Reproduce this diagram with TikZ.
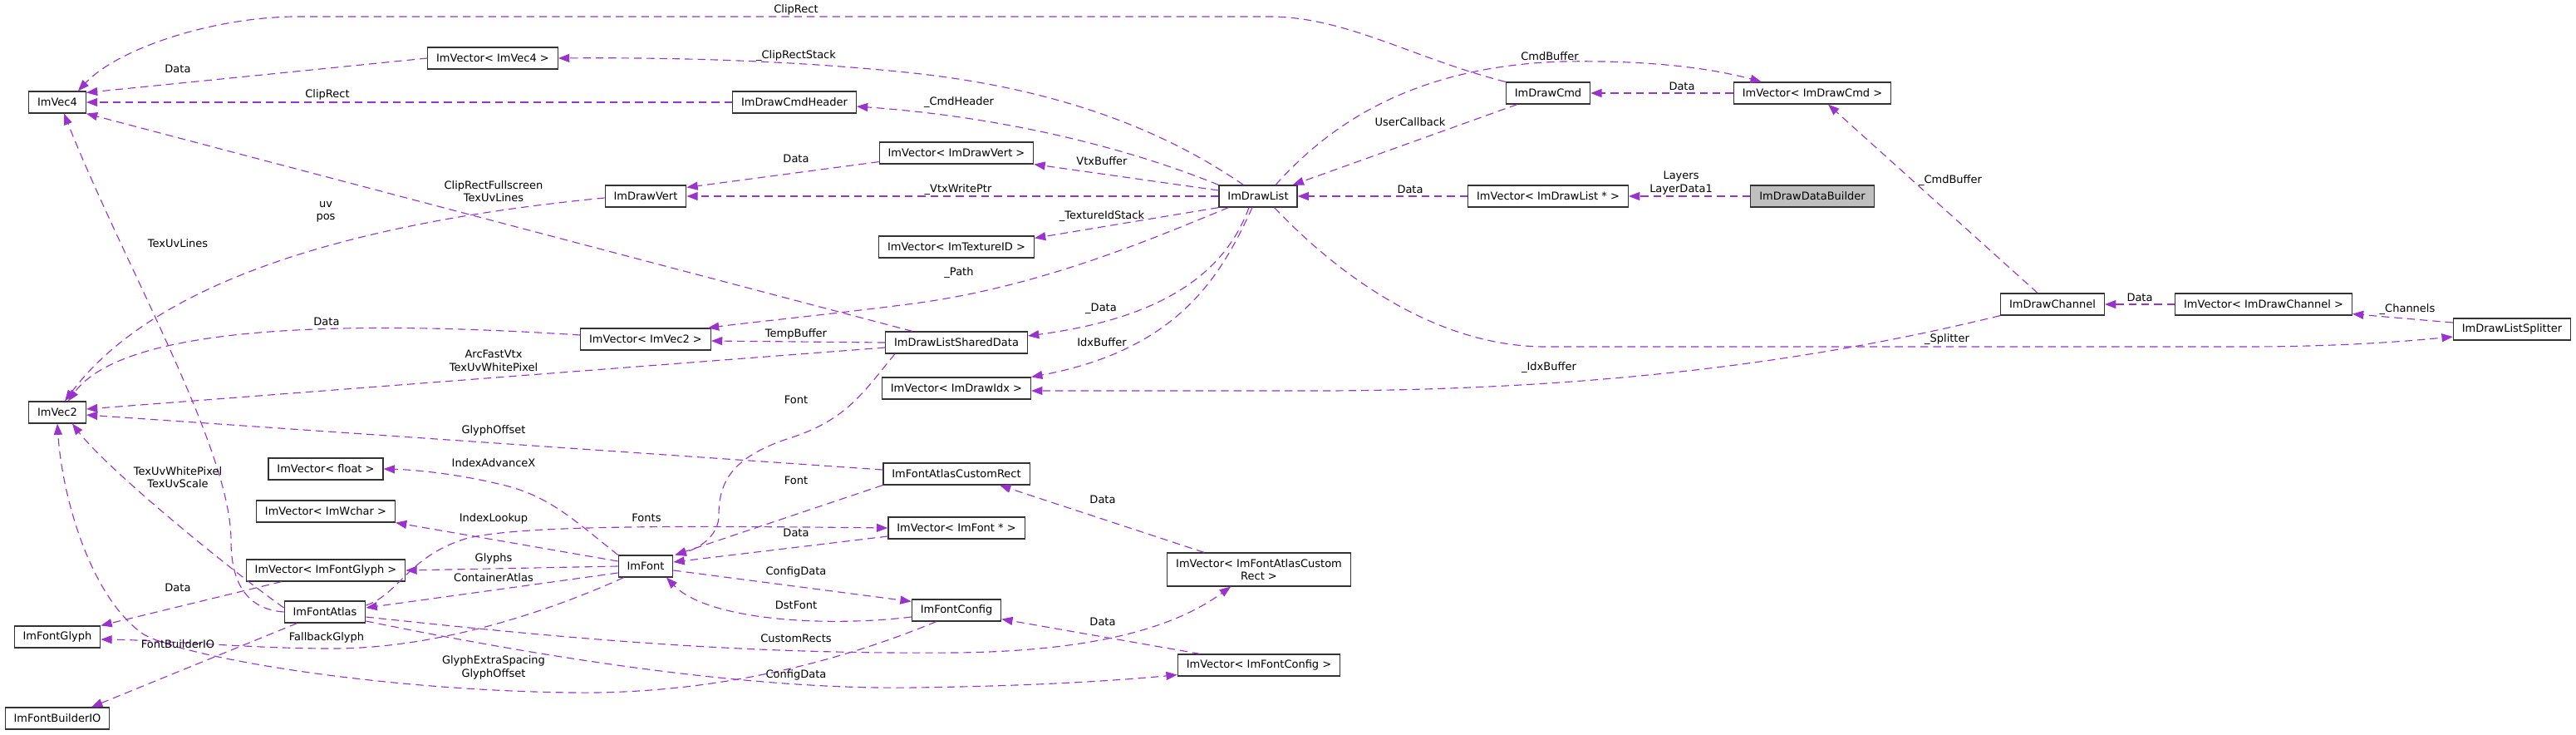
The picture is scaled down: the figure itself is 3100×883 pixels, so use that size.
\documentclass[tikz,border=0pt]{standalone}
\usepackage{fontspec}
\setmainfont{DejaVu Sans}
\usepackage{tikz}
\usetikzlibrary{calc,arrows.meta}
\definecolor{edgepurple}{RGB}{154,50,205}
\definecolor{rootgrey}{RGB}{191,191,191}
\tikzset{
    class box/.style={
        draw=black!80,line width=0.9pt,
        fill=white,
        minimum height=19.5pt,inner xsep=7.8pt,inner ysep=2pt,
        font=\fontsize{9.75pt}{11.5pt}\selectfont
    },
    root box/.style={class box,fill=rootgrey},
    member edge/.style={
        draw=edgepurple,line width=0.85pt,
        dash pattern=on 7pt off 4.5pt,->
    },
    edge label/.style={
        inner sep=0pt,align=center,
        font=\fontsize{9.75pt}{11.5pt}\selectfont
    },
    >={Triangle[length=10pt,width=7.5pt]}
}
\begin{document}
\begin{tikzpicture}[x=0.75pt,y=-0.75pt]
\useasboundingbox (0,0) rectangle (3100,883);
% classes
\node[class box] (vec4) at (69,123) {ImVec4};
\node[class box] (vec2) at (69,496) {ImVec2};
\node[class box] (glyph) at (69,766) {ImFontGlyph};
\node[class box] (builderio) at (69,864) {ImFontBuilderIO};
\node[class box] (vfloat) at (392,564) {ImVector< float >};
\node[class box] (vwchar) at (392,615) {ImVector< ImWchar >};
\node[class box] (vglyph) at (392,686) {ImVector< ImFontGlyph >};
\node[class box] (atlas) at (391,736) {ImFontAtlas};
\node[class box] (vvec4) at (593,70) {ImVector< ImVec4 >};
\node[class box] (drawvert) at (777,236) {ImDrawVert};
\node[class box] (vvec2) at (777,408) {ImVector< ImVec2 >};
\node[class box] (font) at (777,681) {ImFont};
\node[class box] (cmdheader) at (956,123) {ImDrawCmdHeader};
\node[class box] (vvert) at (1151,184) {ImVector< ImDrawVert >};
\node[class box] (vtexid) at (1151,297) {ImVector< ImTextureID >};
\node[class box] (shared) at (1151,412) {ImDrawListSharedData};
\node[class box] (vidx) at (1151,467) {ImVector< ImDrawIdx >};
\node[class box] (customrect) at (1151,570) {ImFontAtlasCustomRect};
\node[class box] (vfont) at (1151,635) {ImVector< ImFont * >};
\node[class box] (config) at (1151,734) {ImFontConfig};
\node[class box] (drawlist) at (1514,236) {ImDrawList};
\node[class box,align=center,minimum height=30pt] (vrect) at (1515,685) {ImVector< ImFontAtlasCustom\\Rect >};
\node[class box] (vconfig) at (1515,800) {ImVector< ImFontConfig >};
\node[class box] (drawcmd) at (1863,112) {ImDrawCmd};
\node[class box] (vlist) at (1863,236) {ImVector< ImDrawList * >};
\node[class box] (vcmd) at (2181,112) {ImVector< ImDrawCmd >};
\node[root box] (builder) at (2181,236) {ImDrawDataBuilder};
\node[class box] (channel) at (2470,366) {ImDrawChannel};
\node[class box] (vchannel) at (2724,366) {ImVector< ImDrawChannel >};
\node[class box] (splitter) at (3023,396) {ImDrawListSplitter};

% members pointing at ImVec4 / ImVec2
\draw[member edge] (drawcmd.north west) .. controls (1700,70) and (1620,20) .. (1527,20) -- (352,20) .. controls (250,22) and (140,60) .. ($(vec4.north)+(25,0)$);
\draw[member edge] (vvec4.west) -- ($(vec4.north east)+(0,2)$);
\draw[member edge] (cmdheader.west) -- (vec4.east);
\draw[member edge] ($(shared.north west)+(33,0)$) -- (vec4.south east);
\draw[member edge] (atlas.west) .. controls (300,733) and (278,705) .. (278,650) .. controls (278,540) and (150,320) .. ($(vec4.south)+(8,0)$);
\draw[member edge] ($(vvec2.west)+(0,-5)$) .. controls (420,385) and (150,390) .. ($(vec2.north)+(13,0)$);
\draw[member edge] ($(drawvert.west)+(0,2)$) .. controls (480,262) and (200,320) .. ($(vec2.north)+(9,0)$);
\draw[member edge] ($(shared.west)+(0,6)$) -- ($(vec2.east)+(0,-4)$);
\draw[member edge] ($(customrect.west)+(0,-5)$) -- ($(vec2.east)+(0,3)$);
\draw[member edge] ($(atlas.west)+(0,-5)$) .. controls (270,680) and (130,565) .. ($(vec2.south)+(18,0)$);
\draw[member edge] ($(config.south west)+(30,0)$) .. controls (1000,800) and (850,835) .. (689,833) .. controls (450,830) and (220,790) .. (173,763) .. controls (110,720) and (75,600) .. (vec2.south);

% font side
\draw[member edge] ($(vglyph.south west)+(43,0)$) -- (glyph.north east);
\draw[member edge] ($(font.south west)+(7,0)$) .. controls (650,740) and (520,780) .. (400,780) .. controls (300,780) and (200,770) .. ($(glyph.east)+(0,3)$);
\draw[member edge] ($(atlas.south west)+(16,0)$) -- ($(builderio.north)+(41,0)$);
\draw[member edge] (font.north west) .. controls (690,625) and (660,595) .. (600,582) .. controls (550,570) and (500,565) .. (vfloat.east);
\draw[member edge] ($(font.west)+(0,-6)$) -- (vwchar.south east);
\draw[member edge] (font.west) -- (vglyph.east);
\draw[member edge] ($(font.west)+(0,8)$) -- ($(atlas.east)+(0,-5)$);
\draw[member edge] ($(atlas.east)+(0,-8)$) .. controls (480,715) and (490,670) .. (560,648) .. controls (620,632) and (800,632) .. (vfont.west);
\draw[member edge] ($(vfont.west)+(0,10)$) -- ($(font.east)+(0,-5)$);
\draw[member edge] (customrect.south west) -- ($(font.north east)+(2,0)$);
\draw[member edge] ($(shared.south west)+(12,0)$) .. controls (1040,470) and (1020,505) .. (950,527) .. controls (880,550) and (865,580) .. (865,620) .. controls (865,645) and (840,660) .. ($(font.north east)+(2,0)$);
\draw[member edge] ($(font.east)+(0,5)$) -- ($(config.north west)+(0,3)$);
\draw[member edge] ($(config.west)+(0,8)$) .. controls (990,755) and (850,745) .. ($(font.south)+(25,0)$);
\draw[member edge] ($(atlas.east)+(0,6)$) .. controls (700,770) and (900,787) .. (1150,785) .. controls (1330,783) and (1420,750) .. ($(vrect.south)+(-34,0)$);
\draw[member edge] ($(atlas.east)+(0,11)$) .. controls (650,790) and (900,830) .. (1100,827) .. controls (1250,825) and (1350,818) .. ($(vconfig.south west)+(0,-2)$);
\draw[member edge] ($(vrect.north)+(-66,0)$) -- ($(customrect.south)+(52,0)$);
\draw[member edge] ($(vconfig.north)+(-71,0)$) -- ($(config.south east)+(0,-3)$);

% draw list side
\draw[member edge] ($(drawlist.north west)+(30,0)$) .. controls (1420,170) and (1300,110) .. (1100,88) .. controls (950,72) and (800,69) .. (vvec4.east);
\draw[member edge] (drawlist.north west) .. controls (1350,175) and (1200,140) .. ($(cmdheader.east)+(0,5)$);
\draw[member edge] ($(drawlist.west)+(0,-7)$) -- (vvert.south east);
\draw[member edge] (drawlist.west) -- (drawvert.east);
\draw[member edge] ($(vvert.south west)+(0,-3)$) -- ($(drawvert.north east)+(0,3)$);
\draw[member edge] (drawlist.south west) -- ($(vtexid.north east)+(0,3)$);
\draw[member edge] ($(drawlist.south west)+(12,0)$) .. controls (1380,290) and (1250,345) .. (1100,365) .. controls (1000,378) and (900,388) .. ($(vvec2.north east)+(-4,0)$);
\draw[member edge] (shared.west) -- ($(vvec2.east)+(0,2)$);
\draw[member edge] ($(drawlist.south)+(-11,0)$) .. controls (1470,340) and (1380,385) .. ($(shared.east)+(0,-8)$);
\draw[member edge] ($(drawlist.south)+(-7,0)$) .. controls (1470,330) and (1420,420) .. (vidx.north east);
\draw[member edge] (channel.south west) .. controls (2200,430) and (1950,468) .. (1600,470) -- ($(vidx.east)+(0,3)$);
\draw[member edge] ($(drawlist.south east)+(-28,0)$) .. controls (1600,320) and (1720,417) .. (1860,417) -- (2700,417) .. controls (2820,417) and (2900,410) .. ($(splitter.west)+(0,9)$);
\draw[member edge] ($(channel.north)+(-18,0)$) -- ($(vcmd.south)+(19,0)$);
\draw[member edge] (vchannel.west) -- (channel.east);
\draw[member edge] ($(splitter.west)+(0,-8)$) -- ($(vchannel.south east)+(0,-2)$);
\draw[member edge] ($(drawlist.north)+(21,0)$) .. controls (1600,150) and (1700,80) .. (1880,74) .. controls (2000,72) and (2070,85) .. ($(vcmd.north west)+(34,0)$);
\draw[member edge] ($(drawcmd.south west)+(14,0)$) -- ($(drawlist.north east)+(-6,0)$);
\draw[member edge] (vcmd.west) -- (drawcmd.east);
\draw[member edge] (vlist.west) -- (drawlist.east);
\draw[member edge] (builder.west) -- (vlist.east);

% labels
\node[edge label] (lClipRectCmd) at (958,12) {ClipRect};
\node[edge label] (lDataVec4) at (214,83) {Data};
\node[edge label] (lClipRectHdr) at (394,114) {ClipRect};
\node[edge label] (lShared4) at (594,230) {ClipRectFullscreen\\TexUvLines};
\node[edge label] (lUvPos) at (392,255) {uv\\pos};
\node[edge label] (lTexUvLines) at (214,293) {TexUvLines};
\node[edge label] (lDataVec2) at (393,387) {Data};
\node[edge label] (lArcFast) at (594,434) {ArcFastVtx\\TexUvWhitePixel};
\node[edge label] (lGlyphOffset) at (594,518) {GlyphOffset};
\node[edge label] (lIndexAdv) at (594,557) {IndexAdvanceX};
\node[edge label] (lTexUvWhite) at (214,574) {TexUvWhitePixel\\TexUvScale};
\node[edge label] (lIndexLookup) at (594,624) {IndexLookup};
\node[edge label] (lFonts) at (778,623) {Fonts};
\node[edge label] (lGlyphs) at (594,672) {Glyphs};
\node[edge label] (lContainer) at (594,695) {ContainerAtlas};
\node[edge label] (lDataGlyph) at (214,707) {Data};
\node[edge label] (lFallback) at (393,767) {FallbackGlyph};
\node[edge label] (lBuilderIO) at (214,775) {FontBuilderIO};
\node[edge label] (lExtraSpacing) at (594,803) {GlyphExtraSpacing\\GlyphOffset};
\node[edge label] (lFontRect) at (958,578) {Font};
\node[edge label] (lDataFont) at (958,641) {Data};
\node[edge label] (lConfigFont) at (958,688) {ConfigData};
\node[edge label] (lDstFont) at (958,728) {DstFont};
\node[edge label] (lCustomRects) at (958,768) {CustomRects};
\node[edge label] (lConfigAtlas) at (958,812) {ConfigData};
\node[edge label] (lDataRect) at (1327,601) {Data};
\node[edge label] (lDataConfig) at (1327,748) {Data};
\node[edge label] (lFontShared) at (958,481) {Font};
\node[edge label] (lTempBuffer) at (958,402) {TempBuffer};
\node[edge label] (lPath) at (1154,328) {\_Path};
\node[edge label] (lData) at (1325,371) {\_Data};
\node[edge label] (lIdxBuffer) at (1326,412) {IdxBuffer};
\node[edge label] (lIdxBufferCh) at (1864,442) {\_IdxBuffer};
\node[edge label] (lSplitter) at (2343,408) {\_Splitter};
\node[edge label] (lCmdBufferCh) at (2347,217) {\_CmdBuffer};
\node[edge label] (lDataChannel) at (2575,358) {Data};
\node[edge label] (lChannels) at (2897,372) {\_Channels};
\node[edge label] (lClipStack) at (958,67) {\_ClipRectStack};
\node[edge label] (lCmdHeader) at (1154,123) {\_CmdHeader};
\node[edge label] (lVtxBuffer) at (1326,194) {VtxBuffer};
\node[edge label] (lVtxWrite) at (1153,228) {\_VtxWritePtr};
\node[edge label] (lDataVert) at (958,191) {Data};
\node[edge label] (lTexStack) at (1326,260) {\_TextureIdStack};
\node[edge label] (lCmdBuffer) at (1865,68) {CmdBuffer};
\node[edge label] (lUserCb) at (1697,147) {UserCallback};
\node[edge label] (lDataCmd) at (2024,104) {Data};
\node[edge label] (lDataList) at (1697,228) {Data};
\node[edge label] (lLayers) at (2023,220) {Layers\\LayerData1};
\end{tikzpicture}
\end{document}
